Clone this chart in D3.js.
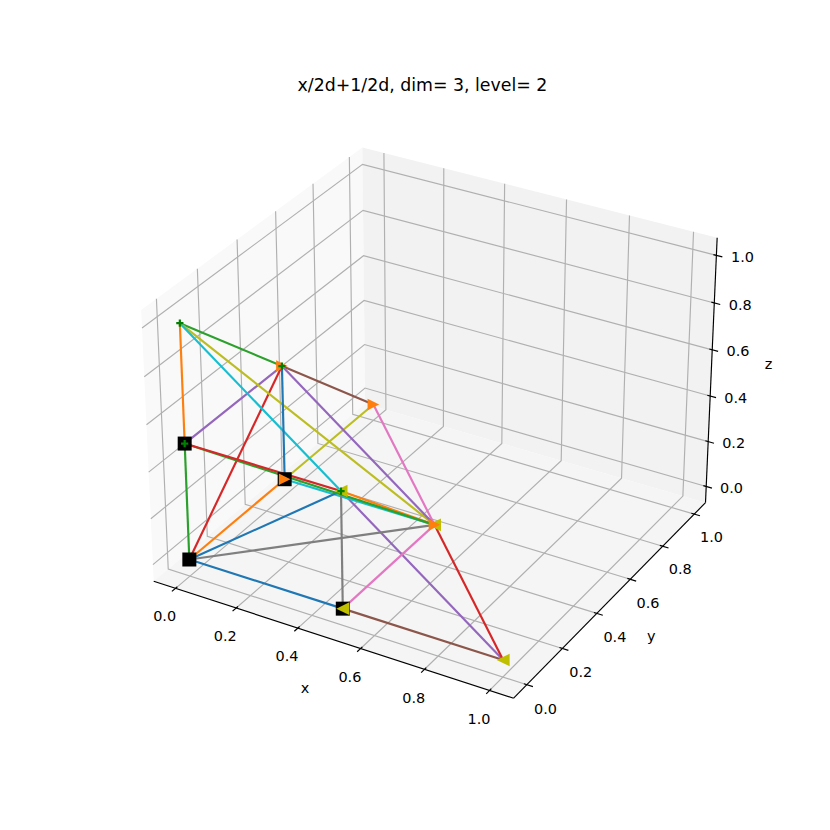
<!DOCTYPE html>
<html lang="en">
<head>
  <meta charset="UTF-8">
  <title>x/2d+1/2d, dim= 3, level= 2</title>
  <style>
    html, body { margin: 0; padding: 0; background: #fff; }
    svg { display: block; }
    text { font-family: "DejaVu Sans", sans-serif; font-size: 14.45px; fill: #000; text-anchor: middle; }
    .title { font-size: 17.35px; }
    .grid { fill: none; stroke: #b0b0b0; stroke-width: 1.16px; }
    .axis-line, .tick { fill: none; stroke: #000; stroke-width: 1.16px; }
    .edge { fill: none; stroke-width: 2.17px; }
  </style>
</head>
<body>
  <svg width="830" height="830"></svg>
  <script src="https://cdn.jsdelivr.net/npm/d3@7"></script>
  <script>
    // points of the level 2 simplex
    var pointX = [0, 0.5, 1, 0, 0, 0.5, 0.5, 0, 0, 0];
    var pointY = [0, 0, 0, 0.5, 1, 0.5, 0, 0.5, 0, 0];
    var pointZ = [0, 0, 0, 0, 0, 0, 0.5, 0.5, 0.5, 1];

    // indices into the point arrays, in drawing order (colour follows the cycle)
    var edgeFrom = [0, 0, 0, 0, 2, 1, 1, 0, 3, 3,  0, 9, 9, 2, 8, 7, 5, 1, 9, 9,  7, 6, 8, 8, 7];
    var edgeTo   = [1, 3, 8, 7, 6, 2, 5, 5, 4, 5,  6, 8, 7, 5, 7, 4, 4, 6, 5, 6,  3, 5, 5, 6, 5];

    // marker groups, one per child simplex
    var squarePoints = [0, 1, 3, 8];
    var leftPoints = [1, 2, 5, 6];
    var rightPoints = [3, 5, 4, 7];
    var plusPoints = [8, 6, 7, 9];

    var tickValues = [0, 0.2, 0.4, 0.6, 0.8, 1];
    var tickLabels = ["0.0", "0.2", "0.4", "0.6", "0.8", "1.0"];
    var titleText = "x/2d+1/2d, dim= 3, level= 2";

    // matplotlib style 3d view
    var elev = 30 * Math.PI / 180, azim = -60 * Math.PI / 180, dist = 10;
    var lo = -0.05 - 1.1 / 48, hi = 1.05 + 1.1 / 48, tickDelta = 1.1 / 12;
    var box = [1.1429, 1.1429, 0.8571];

    var n = [Math.cos(elev) * Math.cos(azim), Math.cos(elev) * Math.sin(azim), Math.sin(elev)];
    var u = [-n[1] / Math.cos(elev), n[0] / Math.cos(elev), 0];
    var v = [n[1] * u[2] - n[2] * u[1], n[2] * u[0] - n[0] * u[2], n[0] * u[1] - n[1] * u[0]];

    var norm = d3.scaleLinear().domain([lo, hi]).range([-0.5, 0.5]);
    var sx = d3.scaleLinear().domain([-0.1, 0.1]).range([434.5 - 360.9, 434.5 + 360.9]);
    var sy = d3.scaleLinear().domain([-0.1, 0.1]).range([410.1 + 360.9, 410.1 - 360.9]);

    function dot(a, b) { return a[0] * b[0] + a[1] * b[1] + a[2] * b[2]; }

    function project(p) {
      var d = [norm(p[0]) * box[0], norm(p[1]) * box[1], norm(p[2]) * box[2]];
      var depth = dist - dot(d, n);
      return [sx(dot(d, u) / depth), sy(dot(d, v) / depth)];
    }

    function point(i) { return [pointX[i], pointY[i], pointZ[i]]; }

    var svg = d3.select("svg");
    var line3d = d3.line().x(function(p) { return project(p)[0]; }).y(function(p) { return project(p)[1]; });

    // panes
    var panes = [
      { fill: "#f9f9f9", corners: [[lo, lo, lo], [lo, hi, lo], [lo, hi, hi], [lo, lo, hi]] },
      { fill: "#f2f2f2", corners: [[lo, hi, lo], [hi, hi, lo], [hi, hi, hi], [lo, hi, hi]] },
      { fill: "#f5f5f5", corners: [[lo, lo, lo], [hi, lo, lo], [hi, hi, lo], [lo, hi, lo]] }
    ];
    svg.selectAll(".pane").data(panes).enter().append("path")
        .attr("class", "pane")
        .attr("fill", function(d) { return d.fill; })
        .attr("d", function(d) { return line3d(d.corners) + "Z"; });

    // grid
    var gridPaths = [];
    tickValues.forEach(function(t) {
      gridPaths.push([[t, lo, lo], [t, hi, lo], [t, hi, hi]]);
      gridPaths.push([[hi, t, lo], [lo, t, lo], [lo, t, hi]]);
      gridPaths.push([[lo, lo, t], [lo, hi, t], [hi, hi, t]]);
    });
    svg.selectAll(".grid").data(gridPaths).enter().append("path")
        .attr("class", "grid")
        .attr("d", line3d);

    // axis lines, ticks and labels
    var axes = [
      { name: "x", ends: [[lo, lo, lo], [hi, lo, lo]],
        at: function(t) { return [t, lo, lo]; },
        tick: function(t, k) { return [t, lo - k, lo]; },
        label: function(t, k) { return [t, lo - k, lo - k]; },
        tickPad: 0.068, namePad: 0.128, dx: 2, dy: 0, nameDx: 0, nameDy: -1.5 },
      { name: "y", ends: [[hi, lo, lo], [hi, hi, lo]],
        at: function(t) { return [hi, t, lo]; },
        tick: function(t, k) { return [hi + k, t, lo]; },
        label: function(t, k) { return [hi + k, t, lo - k]; },
        tickPad: 0.065, namePad: 0.12, dx: -2.5, dy: 2, nameDx: 0, nameDy: 1 },
      { name: "z", ends: [[hi, hi, lo], [hi, hi, hi]],
        at: function(t) { return [hi, hi, t]; },
        tick: function(t, k) { return [hi + k, hi, t]; },
        label: function(t, k) { return [hi + k, hi + k, t]; },
        tickPad: 0.05, namePad: 0.115, dx: 2, dy: 4.5, nameDx: 3, nameDy: -1 }
    ];

    axes.forEach(function(a) {
      svg.append("path").attr("class", "axis-line").attr("d", line3d(a.ends));

      svg.selectAll(".tick-" + a.name).data(tickValues).enter().append("path")
          .attr("class", "tick tick-" + a.name)
          .attr("d", function(t) {
            return line3d([a.tick(t, -0.1 * tickDelta), a.tick(t, 0.2 * tickDelta)]);
          });

      svg.selectAll(".ticklabel-" + a.name).data(tickValues).enter().append("text")
          .attr("class", "ticklabel-" + a.name)
          .attr("x", function(t) { return project(a.label(t, a.tickPad))[0] + a.dx; })
          .attr("y", function(t) { return project(a.label(t, a.tickPad))[1] + a.dy; })
          .attr("dy", ".36em")
          .text(function(t, i) { return tickLabels[i]; });

      var mid = project(a.label(0.5, a.namePad));
      svg.append("text").attr("x", mid[0] + a.nameDx).attr("y", mid[1] + a.nameDy).attr("dy", ".3em").text(a.name);
    });

    // edges
    var colors = d3.schemeCategory10;
    svg.selectAll(".edge").data(edgeFrom).enter().append("path")
        .attr("class", "edge")
        .attr("stroke", function(d, i) { return colors[i % 10]; })
        .attr("d", function(d, i) { return line3d([point(d), point(edgeTo[i])]); });

    // markers
    function markers(list, shape, style) {
      svg.selectAll(null).data(list).enter().append("path")
          .attr("d", shape)
          .attr("fill", style.fill)
          .attr("stroke", style.stroke || "none")
          .attr("stroke-width", style.width || 0)
          .attr("transform", function(i) { return "translate(" + project(point(i)) + ")"; });
    }
    markers(squarePoints, "M-7,-7H7V7H-7Z", { fill: "#000" });
    markers(leftPoints, "M-6.5,0L6.5,-6.3V6.3Z", { fill: "#bfbf00" });
    markers(rightPoints, "M-5.8,-5.8L5.8,0L-5.8,5.8Z", { fill: "#ff7f0e" });
    markers(plusPoints, "M-3.6,0H3.6M0,-3.6V3.6", { fill: "none", stroke: "#008000", width: 2.2 });

    svg.append("text").attr("class", "title").attr("x", 422.5).attr("y", 91).text(titleText);
  </script>
</body>
</html>
